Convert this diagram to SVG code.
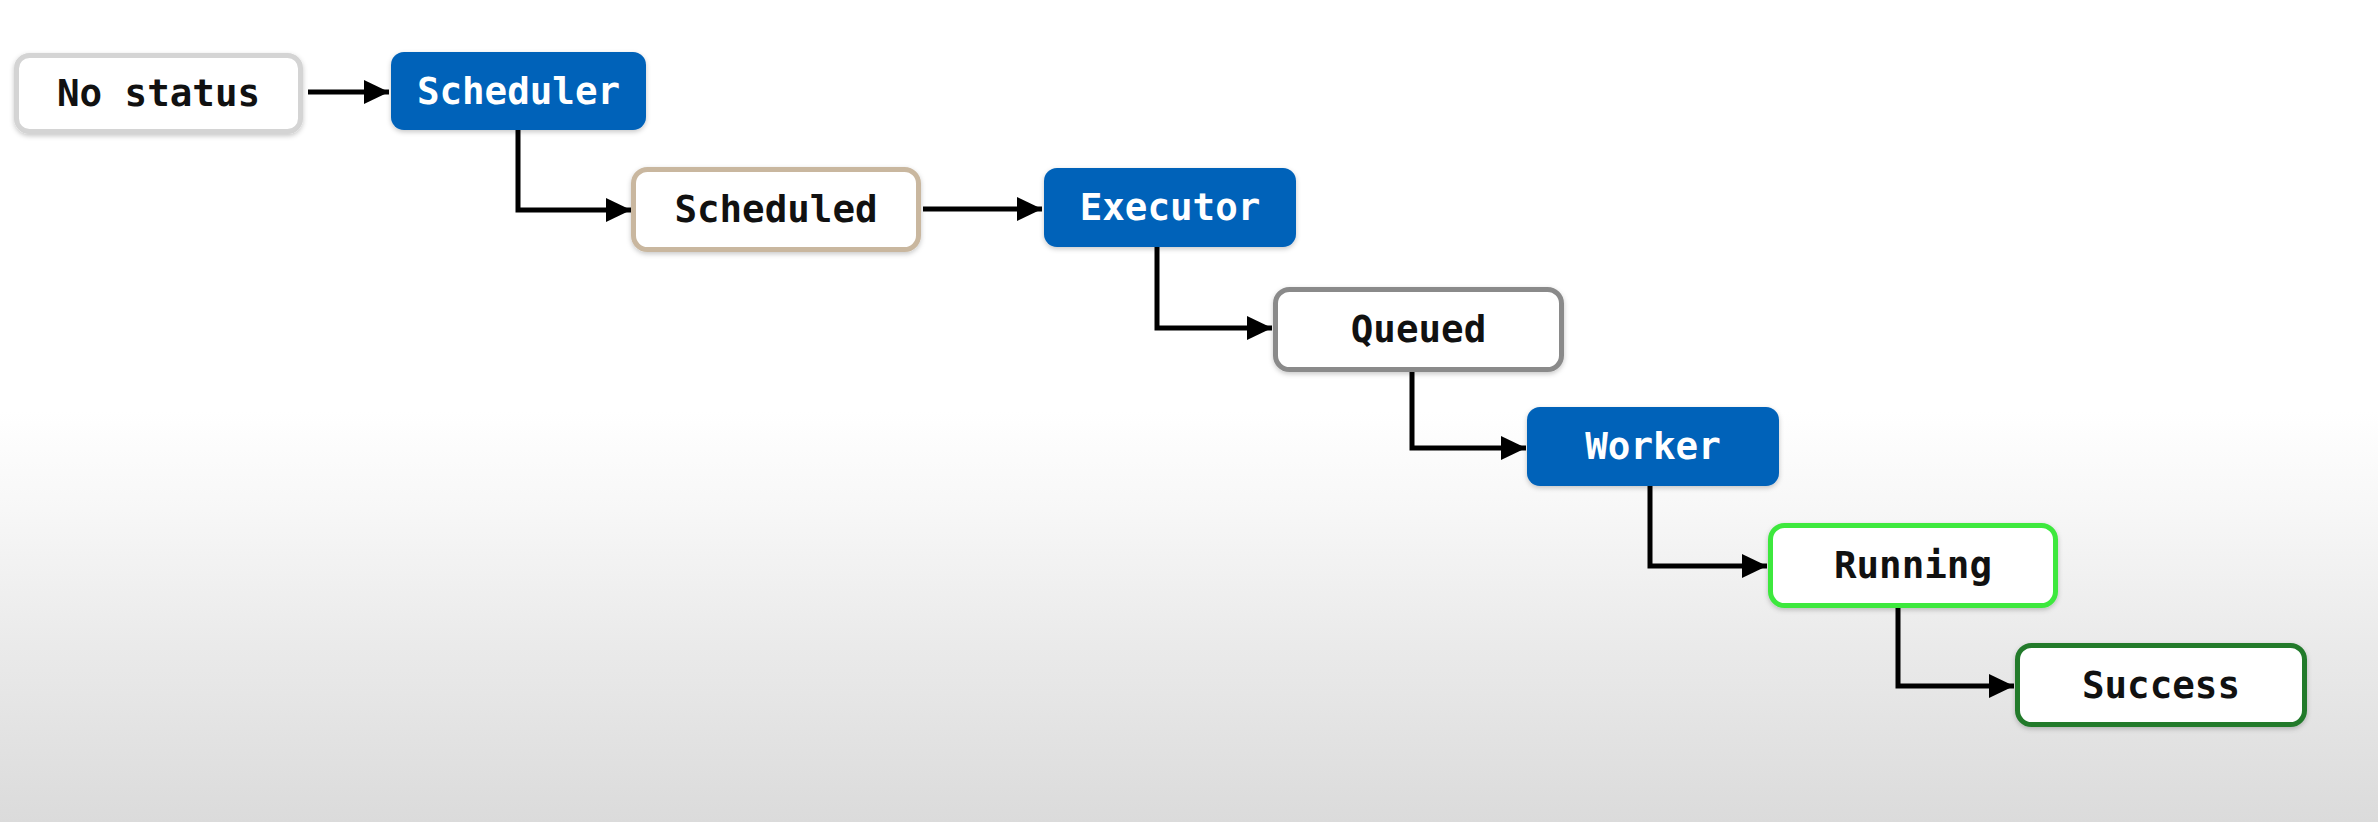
<svg xmlns="http://www.w3.org/2000/svg" width="2378" height="822" viewBox="0 0 2378 822">
<defs>
<linearGradient id="bg" x1="0" y1="0" x2="0" y2="822" gradientUnits="userSpaceOnUse">
<stop offset="0" stop-color="#ffffff"/>
<stop offset="0.5" stop-color="#ffffff"/>
<stop offset="0.62" stop-color="#f7f7f7"/>
<stop offset="0.8" stop-color="#e9e9e9"/>
<stop offset="1" stop-color="#dbdbdb"/>
</linearGradient>
<filter id="sh" x="-10%" y="-20%" width="120%" height="150%">
<feDropShadow dx="0" dy="2" stdDeviation="2.5" flood-color="#000" flood-opacity="0.22"/>
</filter>
<marker id="ah" markerUnits="userSpaceOnUse" markerWidth="26" markerHeight="24" refX="25" refY="12" orient="auto">
<path d="M0,0 L25,12 L0,24 z" fill="#000"/>
</marker>
</defs>
<style>
.lbl{font-family:"DejaVu Sans Mono","Liberation Mono",monospace;font-weight:bold;font-size:37.5px;text-anchor:middle}
.dark{fill:#111}
.light{fill:#ffffff}
.blue{fill:#0562b9;filter:url(#sh)}
.st{fill:#ffffff;stroke-width:5;filter:url(#sh)}
.conn{fill:none;stroke:#000;stroke-width:5;marker-end:url(#ah)}
</style>
<rect x="0" y="0" width="2378" height="822" fill="url(#bg)"/>
<g id="connectors">
<path class="conn" d="M308,92 L389,92"/>
<path class="conn" d="M518,130 L518,210 L631,210"/>
<path class="conn" d="M923,209 L1042,209"/>
<path class="conn" d="M1157,247 L1157,328 L1272,328"/>
<path class="conn" d="M1412,371 L1412,448 L1526,448"/>
<path class="conn" d="M1650,486 L1650,566 L1767,566"/>
<path class="conn" d="M1898,608 L1898,686 L2014,686"/>
</g>
<g id="no-status">
<rect class="st" x="16.5" y="55.5" width="284" height="76" rx="13" stroke="#d4d4d4"/>
<text class="lbl dark" x="158.5" y="106">No status</text>
</g>
<g id="scheduler">
<rect class="blue" x="391" y="52" width="255" height="78" rx="13"/>
<text class="lbl light" x="518.5" y="104">Scheduler</text>
</g>
<g id="scheduled">
<rect class="st" x="633.5" y="169.5" width="285" height="80" rx="14" stroke="#c9b79f"/>
<text class="lbl dark" x="776" y="222">Scheduled</text>
</g>
<g id="executor">
<rect class="blue" x="1044" y="168" width="252" height="79" rx="13"/>
<text class="lbl light" x="1170" y="220">Executor</text>
</g>
<g id="queued">
<rect class="st" x="1275.5" y="289.5" width="286" height="80" rx="14" stroke="#8a8a8a"/>
<text class="lbl dark" x="1418.5" y="342">Queued</text>
</g>
<g id="worker">
<rect class="blue" x="1527" y="407" width="252" height="79" rx="13"/>
<text class="lbl light" x="1653" y="459">Worker</text>
</g>
<g id="running">
<rect class="st" x="1770.5" y="525.5" width="285" height="80" rx="14" stroke="#3ce83e" stroke-width="6"/>
<text class="lbl dark" x="1913" y="578">Running</text>
</g>
<g id="success">
<rect class="st" x="2017.5" y="645.5" width="287" height="79" rx="14" stroke="#217a2c"/>
<text class="lbl dark" x="2161" y="698">Success</text>
</g>
</svg>
